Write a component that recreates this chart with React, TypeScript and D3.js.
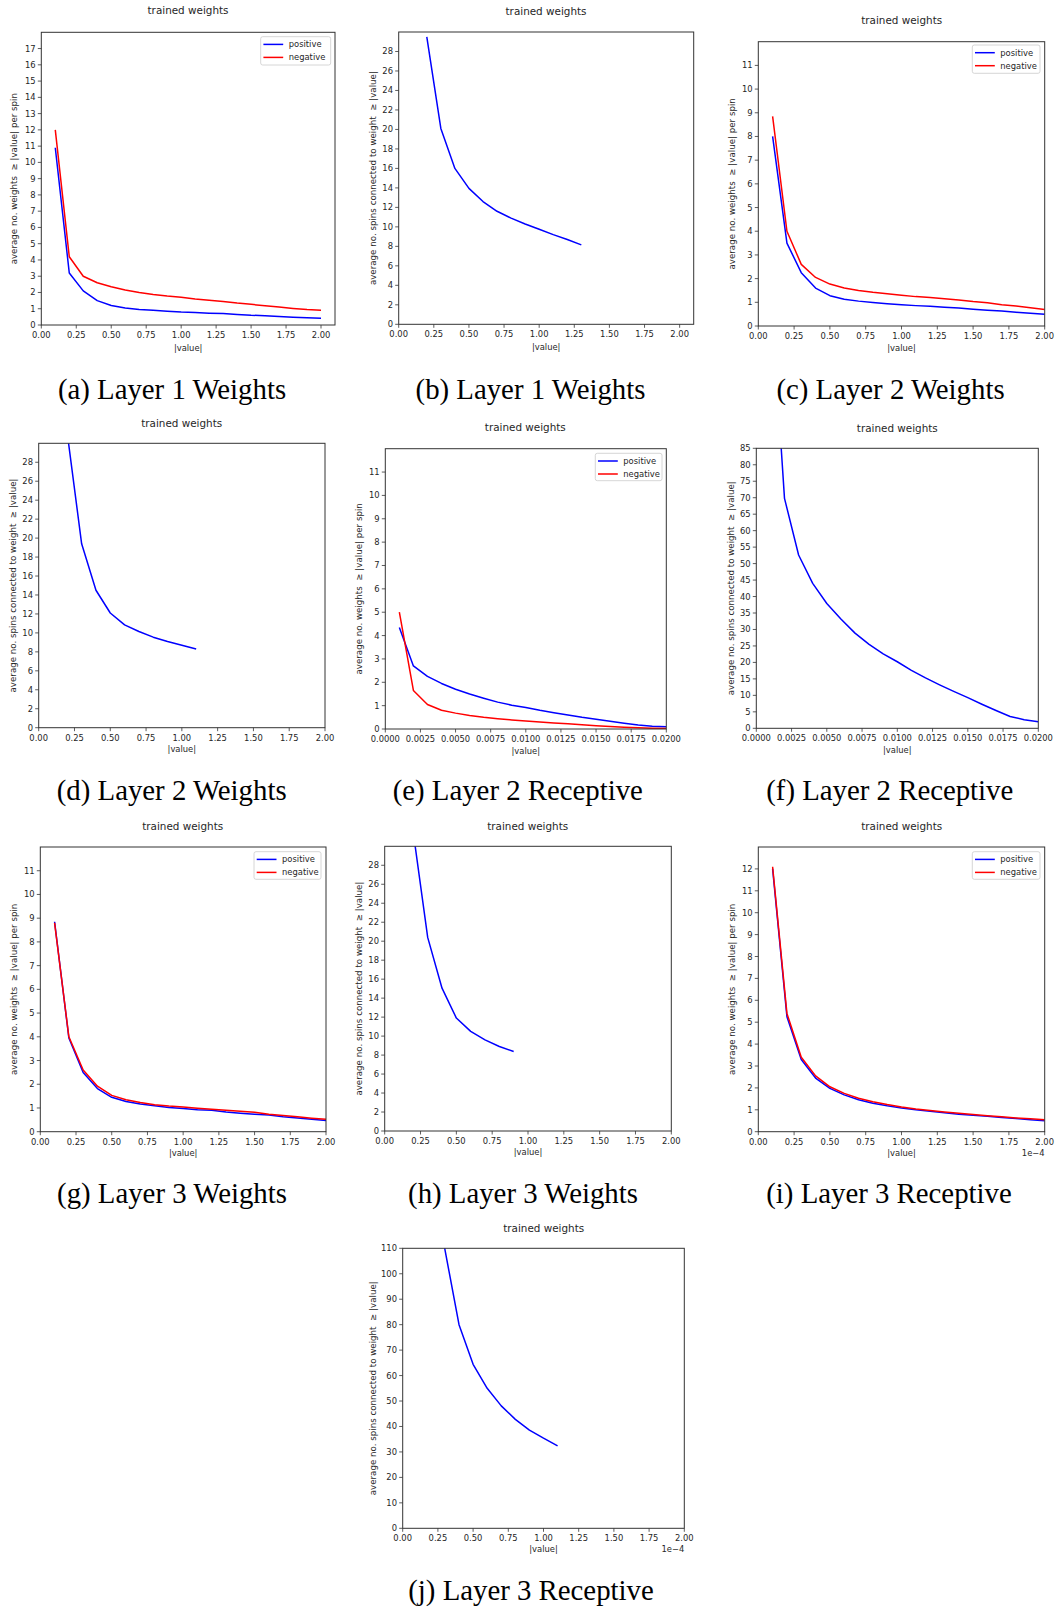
import React from 'react';
import * as d3 from 'd3';

// ---------- data ----------
const xsW = [0.1, 0.2, 0.3, 0.4, 0.5, 0.6, 0.7, 0.8, 0.9, 1.0, 1.1, 1.2, 1.3, 1.4, 1.5, 1.6, 1.7, 1.8, 1.9, 2.0];
const xsR = [0.001, 0.002, 0.003, 0.004, 0.005, 0.006, 0.007, 0.008, 0.009, 0.01, 0.011, 0.012, 0.013, 0.014, 0.015, 0.016, 0.017, 0.018, 0.019, 0.02];

const aPos = [10.9, 3.2, 2.1, 1.5, 1.2, 1.05, 0.95, 0.9, 0.85, 0.8, 0.77, 0.73, 0.7, 0.65, 0.6, 0.57, 0.52, 0.48, 0.45, 0.42];
const aNeg = [12.0, 4.2, 3.0, 2.6, 2.35, 2.15, 2.0, 1.88, 1.78, 1.7, 1.6, 1.52, 1.45, 1.35, 1.27, 1.18, 1.1, 1.02, 0.95, 0.9];

const bX = [0.2, 0.3, 0.4, 0.5, 0.6, 0.7, 0.8, 0.9, 1.0, 1.1, 1.2, 1.3];
const bSpins = [29.5, 20.1, 16.0, 13.95, 12.6, 11.6, 10.9, 10.3, 9.75, 9.2, 8.7, 8.15];

const cPos = [8.0, 3.5, 2.25, 1.6, 1.28, 1.13, 1.05, 0.99, 0.94, 0.9, 0.86, 0.83, 0.79, 0.76, 0.71, 0.67, 0.63, 0.58, 0.54, 0.5];
const cNeg = [8.85, 4.0, 2.6, 2.05, 1.77, 1.6, 1.5, 1.42, 1.36, 1.3, 1.24, 1.2, 1.15, 1.1, 1.03, 0.98, 0.9, 0.84, 0.77, 0.7];

const dX = [0.2, 0.3, 0.4, 0.5, 0.6, 0.7, 0.8, 0.9, 1.0, 1.1];
const dSpins = [31.0, 19.4, 14.5, 12.1, 10.85, 10.15, 9.55, 9.1, 8.7, 8.3];

const ePos = [4.35, 2.7, 2.25, 1.95, 1.7, 1.5, 1.32, 1.15, 1.02, 0.92, 0.8, 0.7, 0.6, 0.5, 0.42, 0.33, 0.25, 0.17, 0.12, 0.1];
const eNeg = [5.0, 1.65, 1.05, 0.8, 0.68, 0.58, 0.5, 0.44, 0.39, 0.34, 0.3, 0.26, 0.22, 0.18, 0.14, 0.11, 0.08, 0.05, 0.03, 0.02];

const fSpins = [135, 69.8, 52.6, 44.0, 37.9, 33.2, 28.9, 25.5, 22.6, 20.2, 17.6, 15.3, 13.2, 11.2, 9.3, 7.3, 5.4, 3.6, 2.6, 2.0];

const gPos = [8.85, 3.95, 2.5, 1.82, 1.45, 1.27, 1.17, 1.09, 1.02, 0.98, 0.93, 0.9, 0.83, 0.78, 0.74, 0.7, 0.63, 0.58, 0.52, 0.47];
const gNeg = [8.8, 4.0, 2.6, 1.92, 1.53, 1.35, 1.23, 1.14, 1.08, 1.04, 0.99, 0.95, 0.9, 0.86, 0.82, 0.74, 0.68, 0.63, 0.57, 0.52];

const hX = [0.2, 0.3, 0.4, 0.5, 0.6, 0.7, 0.8, 0.9];
const hSpins = [31.4, 20.4, 15.05, 11.9, 10.5, 9.6, 8.9, 8.37];

const iPos = [12.0, 5.25, 3.3, 2.45, 1.98, 1.68, 1.46, 1.3, 1.18, 1.08, 1.0, 0.93, 0.86, 0.8, 0.75, 0.7, 0.65, 0.6, 0.55, 0.5];
const iNeg = [12.1, 5.4, 3.4, 2.55, 2.05, 1.75, 1.53, 1.37, 1.24, 1.13, 1.04, 0.97, 0.9, 0.84, 0.78, 0.73, 0.68, 0.63, 0.59, 0.55];

const jX = [0.2, 0.3, 0.4, 0.5, 0.6, 0.7, 0.8, 0.9, 1.0, 1.1];
const jSpins = [160, 109.5, 80.0, 64.4, 55.0, 48.1, 42.8, 38.6, 35.4, 32.4];

// tick labels
const xTicksW = [0, 0.25, 0.5, 0.75, 1.0, 1.25, 1.5, 1.75, 2.0];
const xTicksR = [0, 0.0025, 0.005, 0.0075, 0.01, 0.0125, 0.015, 0.0175, 0.02];
const yTicks17 = [0, 1, 2, 3, 4, 5, 6, 7, 8, 9, 10, 11, 12, 13, 14, 15, 16, 17];
const yTicks11 = [0, 1, 2, 3, 4, 5, 6, 7, 8, 9, 10, 11];
const yTicks12 = [0, 1, 2, 3, 4, 5, 6, 7, 8, 9, 10, 11, 12];
const yTicks28 = [0, 2, 4, 6, 8, 10, 12, 14, 16, 18, 20, 22, 24, 26, 28];
const yTicks85 = [0, 5, 10, 15, 20, 25, 30, 35, 40, 45, 50, 55, 60, 65, 70, 75, 80, 85];
const yTicks110 = [0, 10, 20, 30, 40, 50, 60, 70, 80, 90, 100, 110];

const captions = [
  '(a) Layer 1 Weights', '(b) Layer 1 Weights', '(c) Layer 2 Weights',
  '(d) Layer 2 Weights', '(e) Layer 2 Receptive', '(f) Layer 2 Receptive',
  '(g) Layer 3 Weights', '(h) Layer 3 Weights', '(i) Layer 3 Receptive',
  '(j) Layer 3 Receptive',
];

const TITLE = 'trained weights';
const YLAB_W = 'average no. weights  \u2265 |value| per spin';
const YLAB_S = 'average no. spins connected to weight  \u2265 |value|';
const XLAB = '|value|';

const BLUE = '#0000ff';
const RED = '#ff0000';
const SANS = "'DejaVu Sans', 'Liberation Sans', sans-serif";
const SERIF = "'Liberation Serif', 'DejaVu Serif', 'Times New Roman', serif";
const TXT = '#262626';

type Series = { xs: number[]; ys: number[]; color: string; label?: string };
type PanelDef = {
  id: string;
  L: number; R: number; T: number; B: number;
  xDomain: [number, number]; yDomain: [number, number];
  xTicks: number[]; xFmt: (v: number) => string;
  yTicks: number[];
  titleX: number; titleY: number;
  ylabX: number; ylab: string;
  xlabY: number;
  series: Series[];
  legend?: { x0: number; y0: number; x1: number; y1: number };
  offset?: boolean;
  capX: number; capY: number; caption: string;
};

const f2 = d3.format('.2f');
const f4 = d3.format('.4f');

const panels: PanelDef[] = [
  {
    id: 'a', L: 41.3, R: 335, T: 32.3, B: 325, xDomain: [0, 2.1], yDomain: [0, 18],
    xTicks: xTicksW, xFmt: f2, yTicks: yTicks17, titleX: 188, titleY: 10, ylabX: 14, ylab: YLAB_W, xlabY: 348,
    series: [{ xs: xsW, ys: aPos, color: BLUE, label: 'positive' }, { xs: xsW, ys: aNeg, color: RED, label: 'negative' }],
    legend: { x0: 260.7, y0: 36.7, x1: 330.7, y1: 65 }, capX: 172, capY: 399, caption: captions[0],
  },
  {
    id: 'b', L: 398.7, R: 693.7, T: 32, B: 324.3, xDomain: [0, 2.1], yDomain: [0, 30],
    xTicks: xTicksW, xFmt: f2, yTicks: yTicks28, titleX: 546, titleY: 11, ylabX: 372.7, ylab: YLAB_S, xlabY: 346.7,
    series: [{ xs: bX, ys: bSpins, color: BLUE }], capX: 530.5, capY: 399, caption: captions[1],
  },
  {
    id: 'c', L: 758.3, R: 1044.7, T: 41.7, B: 326, xDomain: [0, 2.0], yDomain: [0, 12],
    xTicks: xTicksW, xFmt: f2, yTicks: yTicks11, titleX: 901.7, titleY: 20, ylabX: 732.3, ylab: YLAB_W, xlabY: 348.3,
    series: [{ xs: xsW, ys: cPos, color: BLUE, label: 'positive' }, { xs: xsW, ys: cNeg, color: RED, label: 'negative' }],
    legend: { x0: 972.3, y0: 45, x1: 1040, y1: 73.3 }, capX: 890.5, capY: 399, caption: captions[2],
  },
  {
    id: 'd', L: 38.7, R: 325, T: 443.3, B: 727.7, xDomain: [0, 2.0], yDomain: [0, 30],
    xTicks: xTicksW, xFmt: f2, yTicks: yTicks28, titleX: 181.7, titleY: 423.3, ylabX: 12.7, ylab: YLAB_S, xlabY: 749,
    series: [{ xs: dX, ys: dSpins, color: BLUE }], capX: 171.7, capY: 800, caption: captions[3],
  },
  {
    id: 'e', L: 385.3, R: 666.3, T: 448.7, B: 729, xDomain: [0, 0.02], yDomain: [0, 12],
    xTicks: xTicksR, xFmt: f4, yTicks: yTicks11, titleX: 525.3, titleY: 427.7, ylabX: 358.7, ylab: YLAB_W, xlabY: 750.7,
    series: [{ xs: xsR, ys: ePos, color: BLUE, label: 'positive' }, { xs: xsR, ys: eNeg, color: RED, label: 'negative' }],
    legend: { x0: 595.3, y0: 453.3, x1: 662, y1: 480.7 }, capX: 517.8, capY: 800, caption: captions[4],
  },
  {
    id: 'f', L: 756.3, R: 1038.3, T: 448.3, B: 728.3, xDomain: [0, 0.02], yDomain: [0, 85],
    xTicks: xTicksR, xFmt: f4, yTicks: yTicks85, titleX: 897.3, titleY: 428.3, ylabX: 730.7, ylab: YLAB_S, xlabY: 750,
    series: [{ xs: xsR, ys: fSpins, color: BLUE }], capX: 889.8, capY: 800, caption: captions[5],
  },
  {
    id: 'g', L: 40.3, R: 326, T: 847, B: 1131.7, xDomain: [0, 2.0], yDomain: [0, 12],
    xTicks: xTicksW, xFmt: f2, yTicks: yTicks11, titleX: 182.7, titleY: 826, ylabX: 14, ylab: YLAB_W, xlabY: 1153.3,
    series: [{ xs: xsW, ys: gPos, color: BLUE, label: 'positive' }, { xs: xsW, ys: gNeg, color: RED, label: 'negative' }],
    legend: { x0: 254, y0: 851.7, x1: 321, y1: 879.3 }, capX: 172, capY: 1203, caption: captions[6],
  },
  {
    id: 'h', L: 384.7, R: 671.3, T: 846.3, B: 1131, xDomain: [0, 2.0], yDomain: [0, 30],
    xTicks: xTicksW, xFmt: f2, yTicks: yTicks28, titleX: 527.7, titleY: 826, ylabX: 358.7, ylab: YLAB_S, xlabY: 1152.3,
    series: [{ xs: hX, ys: hSpins, color: BLUE }], capX: 523, capY: 1203, caption: captions[7],
  },
  {
    id: 'i', L: 758.3, R: 1044.7, T: 847, B: 1131.7, xDomain: [0, 2.0], yDomain: [0, 13],
    xTicks: xTicksW, xFmt: f2, yTicks: yTicks12, titleX: 901.7, titleY: 826, ylabX: 732.3, ylab: YLAB_W, xlabY: 1153.3,
    series: [{ xs: xsW, ys: iPos, color: BLUE, label: 'positive' }, { xs: xsW, ys: iNeg, color: RED, label: 'negative' }],
    legend: { x0: 972.3, y0: 851.7, x1: 1040, y1: 879.3 }, offset: true, capX: 889, capY: 1203, caption: captions[8],
  },
  {
    id: 'j', L: 402.7, R: 684.3, T: 1248.3, B: 1528.3, xDomain: [0, 2.0], yDomain: [0, 110],
    xTicks: xTicksW, xFmt: f2, yTicks: yTicks110, titleX: 543.7, titleY: 1228.3, ylabX: 372.7, ylab: YLAB_S, xlabY: 1549.3,
    series: [{ xs: jX, ys: jSpins, color: BLUE }], offset: true, capX: 531, capY: 1599.5, caption: captions[9],
  },
];

const TICK = 3.5;
const FS = 8.4;

function Panel({ p }: { p: PanelDef }) {
  const x = d3.scaleLinear().domain(p.xDomain).range([p.L, p.R]);
  const y = d3.scaleLinear().domain(p.yDomain).range([p.B, p.T]);
  const line = d3.line<[number, number]>().x((d) => x(d[0])).y((d) => y(d[1]));
  const clipId = 'clip-' + p.id;
  const legendSeries = p.series.filter((s) => s.label);
  return (
    <g>
      <defs>
        <clipPath id={clipId}>
          <rect x={p.L} y={p.T} width={p.R - p.L} height={p.B - p.T} />
        </clipPath>
      </defs>
      <text x={p.titleX} y={p.titleY + 3.7} fontSize={10.4} textAnchor="middle" fill={TXT} fontFamily={SANS}>{TITLE}</text>
      <g clipPath={`url(#${clipId})`}>
        {p.series.map((s, i) => (
          <path key={i} d={line(s.xs.map((v, k) => [v, s.ys[k]] as [number, number])) || ''} fill="none" stroke={s.color} strokeWidth={1.5} strokeLinejoin="round" />
        ))}
      </g>
      <rect x={p.L} y={p.T} width={p.R - p.L} height={p.B - p.T} fill="none" stroke="#333" strokeWidth={1} />
      {p.xTicks.map((t, i) => (
        <g key={'x' + i}>
          <line x1={x(t)} x2={x(t)} y1={p.B} y2={p.B + TICK} stroke="#333" strokeWidth={0.8} />
          <text x={x(t)} y={p.B + TICK + 9.5} fontSize={FS} textAnchor="middle" fill={TXT} fontFamily={SANS}>{p.xFmt(t)}</text>
        </g>
      ))}
      {p.yTicks.map((t, i) => (
        <g key={'y' + i}>
          <line x1={p.L - TICK} x2={p.L} y1={y(t)} y2={y(t)} stroke="#333" strokeWidth={0.8} />
          <text x={p.L - TICK - 2.2} y={y(t) + 3} fontSize={FS} textAnchor="end" fill={TXT} fontFamily={SANS}>{String(t)}</text>
        </g>
      ))}
      <text x={(p.L + p.R) / 2} y={p.xlabY + 3} fontSize={FS} textAnchor="middle" fill={TXT} fontFamily={SANS}>{XLAB}</text>
      <text
        transform={`translate(${p.ylabX},${(p.T + p.B) / 2}) rotate(-90)`}
        y={3}
        fontSize={8.7}
        textAnchor="middle"
        fill={TXT}
        fontFamily={SANS}
        style={{ whiteSpace: 'pre' }}
      >{p.ylab}</text>
      {p.offset && (
        <text x={p.R} y={p.xlabY + 3} fontSize={FS} textAnchor="end" fill={TXT} fontFamily={SANS}>1e{'\u2212'}4</text>
      )}
      {p.legend && (
        <g>
          <rect x={p.legend.x0} y={p.legend.y0} width={p.legend.x1 - p.legend.x0} height={p.legend.y1 - p.legend.y0} rx={2} fill="#fff" fillOpacity={0.85} stroke="#cccccc" strokeWidth={0.8} />
          {legendSeries.map((s, i) => {
            const ly = p.legend!.y0 + 7.7 + i * 13;
            return (
              <g key={'l' + i}>
                <line x1={p.legend!.x0 + 2.7} x2={p.legend!.x0 + 22.5} y1={ly} y2={ly} stroke={s.color} strokeWidth={1.5} />
                <text x={p.legend!.x0 + 28} y={ly + 3} fontSize={FS} fill={TXT} fontFamily={SANS}>{s.label}</text>
              </g>
            );
          })}
        </g>
      )}
      <text x={p.capX} y={p.capY} fontSize={28.8} textAnchor="middle" fill="#000" fontFamily={SERIF}>{p.caption}</text>
    </g>
  );
}

export default function App() {
  return (
    <svg
      width={1056}
      height={1610}
      viewBox="0 0 1056 1610"
      style={{ position: 'absolute', left: 0, top: 0, background: '#fff' }}
    >
      <rect x={0} y={0} width={1056} height={1610} fill="#fff" />
      {panels.map((p) => (
        <Panel key={p.id} p={p} />
      ))}
    </svg>
  );
}
